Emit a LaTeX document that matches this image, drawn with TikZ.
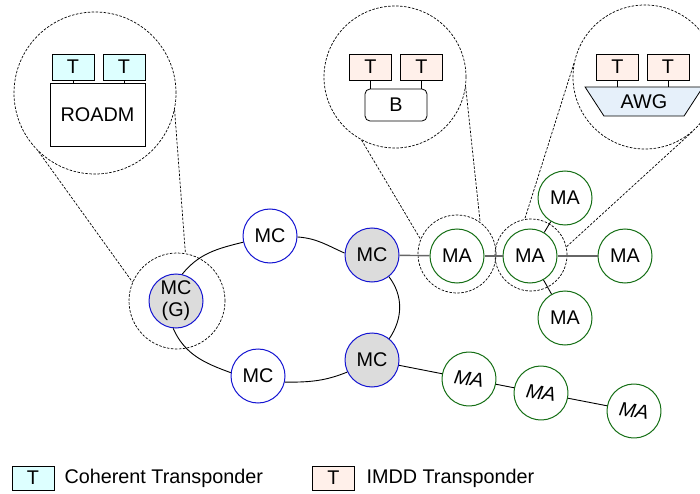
\documentclass[tikz,border=0pt]{standalone}
\usepackage{fontspec}
\setmainfont{Liberation Sans}
\usetikzlibrary{shapes.geometric}
\definecolor{cohcyan}{RGB}{221,255,255}
\definecolor{imddpeach}{RGB}{255,240,234}
\definecolor{awgblue}{RGB}{230,240,250}
\definecolor{mcblue}{RGB}{20,20,210}
\definecolor{magreen}{RGB}{20,110,20}
\definecolor{hubgray}{RGB}{220,220,220}
\begin{document}
\begin{tikzpicture}[x=1pt,y=1pt,
  every node/.style={font=\fontsize{19.8}{22}\selectfont},
  mc/.style={circle,draw=mcblue,line width=1pt,fill=white,minimum size=54,inner sep=0pt,align=center},
  hub/.style={mc,fill=hubgray},
  ma/.style={circle,draw=magreen,line width=1pt,fill=white,minimum size=54,inner sep=0pt},
  far/.style={ma,rotate=-9,font=\fontsize{19.8}{22}\selectfont\itshape},
  lens/.style={line width=0.7pt,dash pattern=on 2.5pt off 1.5pt},
  zoom/.style={circle,lens,draw,inner sep=0pt},
  tcoh/.style={draw,line width=0.8pt,fill=cohcyan,minimum width=42,minimum height=26,inner sep=0pt},
  timdd/.style={tcoh,fill=imddpeach},
  part/.style={draw,line width=0.8pt,fill=white,inner sep=0pt},
  link/.style={line width=0.9pt},
  trunk/.style={line width=1.4pt,black!60}]
\useasboundingbox (0,0) rectangle (700,493);
% zoomed-in nodes
\node[zoom,minimum size=162] (zoomL) at (95,400) {};
\node[zoom,minimum size=142] (zoomM) at (395,416) {};
\node[zoom,minimum size=144] (zoomR) at (645,416) {};
\node[tcoh] (tc1) at (73,426) {T};
\node[tcoh] (tc2) at (124,426) {T};
\node[part,minimum width=95,minimum height=63] (roadm) at (97.5,378.5) {ROADM};
\draw[link] (tc1.south) -- (tc1.south |- roadm.north);
\draw[link] (tc2.south) -- (tc2.south |- roadm.north);
\node[timdd] (tm1) at (370.5,426) {T};
\node[timdd] (tm2) at (421.5,426) {T};
\node[part,rounded corners=5pt,minimum width=62,minimum height=32] (bdev) at (396,388) {B};
\draw[link] (tm1.south) -- (tm1.south |- bdev.north);
\draw[link] (tm2.south) -- (tm2.south |- bdev.north);
\node[timdd] (ta1) at (617.5,426) {T};
\node[timdd] (ta2) at (668,426) {T};
\node[part,fill=awgblue,trapezium,shape border rotate=180,trapezium angle=52,
  trapezium stretches=true,minimum width=118,minimum height=29] (awg) at (644,391.5) {AWG};
\draw[link] (ta1.south) -- (ta1.south |- awg.bottom side);
\draw[link] (ta2.south) -- (ta2.south |- awg.bottom side);
% network
\node[hub] (g) at (176,192) {MC\\(G)};
\node[zoom,minimum size=96] (gz) at (177,192) {};
\node[mc] (mct) at (270,257) {MC};
\node[hub] (mcr1) at (372,238) {MC};
\node[hub] (mcr2) at (372,133) {MC};
\node[mc] (mcb) at (258,117) {MC};
\node[ma] (ma1) at (457,237) {MA};
\node[zoom,minimum size=78] (ma1z) at (457,239) {};
\node[ma] (ma2) at (530,237) {MA};
\node[zoom,minimum size=72] (ma2z) at (531,238) {};
\node[ma] (mat) at (565,295) {MA};
\node[ma] (mar) at (625,237) {MA};
\node[ma] (mab) at (565,175) {MA};
\node[far] (maA) at (469,114) {MA};
\node[far] (maB) at (541,100) {MA};
\node[far] (maC) at (634,82) {MA};
\draw[link] (g.77) to[out=51,in=194] (mct.193);
\draw[link] (mct.-2) to[out=-4,in=156] (mcr1.176);
\draw[link] (mcr1.-52) to[out=-53,in=56] (mcr2.51);
\draw[link] (mcr2.206) to[out=202,in=0] (mcb.-13);
\draw[link] (mcb.173) to[out=160,in=-66] (g.264);
\draw[trunk] (mcr1) -- (ma1);
\draw[trunk] (ma1) -- (ma2);
\draw[trunk] (ma2) -- (mar);
\draw[link] (ma2) -- (mat);
\draw[link] (ma2) -- (mab);
\draw[link] (mcr2) -- (maA);
\draw[link] (maA) -- (maB);
\draw[link] (maB) -- (maC);
% lens lines
\draw[lens] (zoomL.226) -- (gz.157);
\draw[lens] (zoomL.-12) -- (gz.80);
\draw[lens] (zoomM.242) -- (ma1z.158);
\draw[lens] (zoomM.-8) -- (ma1z.54);
\draw[lens] (zoomR.169) -- (ma2z.100);
\draw[lens] (zoomR.-49) -- (ma2z.13);
% legend
\node[tcoh,minimum height=24] (keycoh) at (33,15) {T};
\node[anchor=west] (keycohtext) at (61,15) {Coherent Transponder};
\node[timdd,minimum height=24] (keyimdd) at (333.5,15) {T};
\node[anchor=west] (keyimddtext) at (363,15) {IMDD Transponder};
\end{tikzpicture}
\end{document}
